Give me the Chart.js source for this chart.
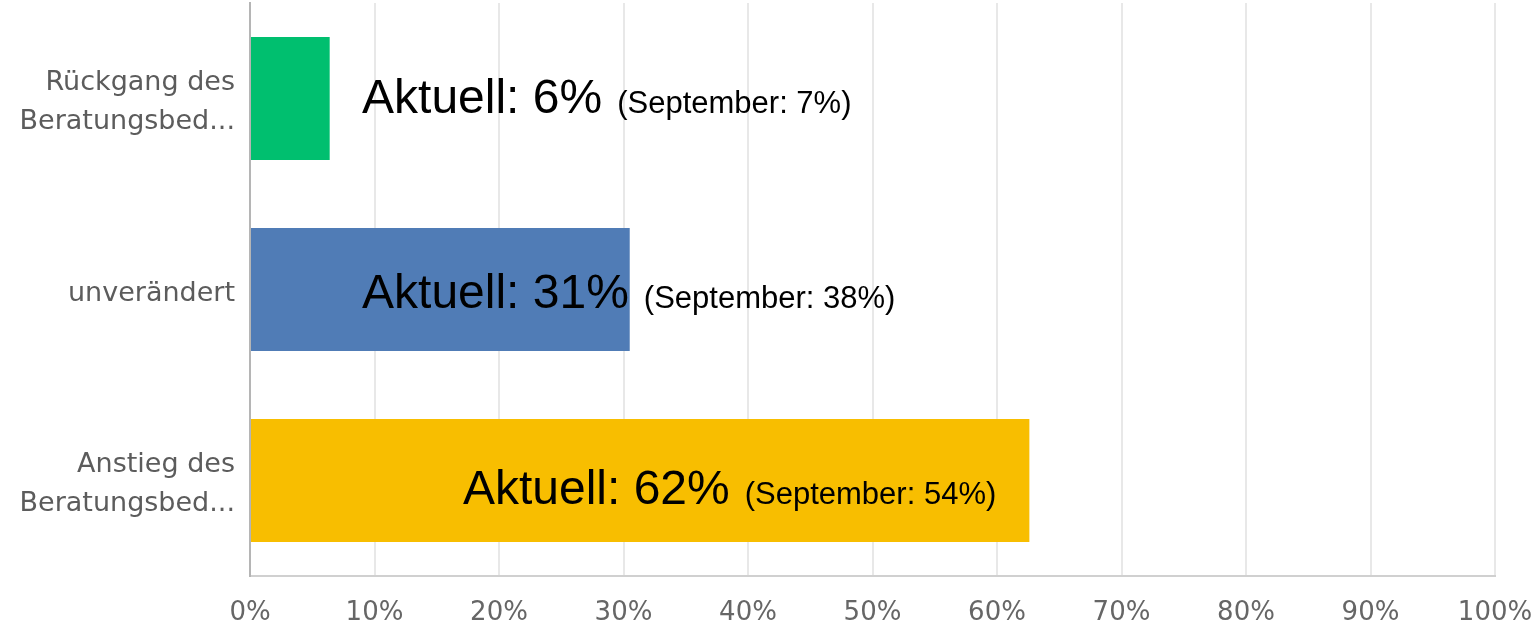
<!DOCTYPE html>
<html lang="de">
<head>
  <meta charset="UTF-8" />
  <title>Beratungsbedarf</title>
  <script src="https://cdn.jsdelivr.net/npm/chart.js"></script>
  <style>
    body { margin: 0; background: #fff; }
    #wrap { width: 1540px; height: 627px; }
  </style>
</head>
<body>
  <div id="wrap"><canvas id="chart"></canvas></div>

  <script>
    // data
    const categories = [
      ['Rückgang des', 'Beratungsbed...'],
      'unverändert',
      ['Anstieg des', 'Beratungsbed...']
    ];
    const currentValues = [6.4, 30.5, 62.6];
    const currentLabels = ['6%', '31%', '62%'];
    const septemberLabels = ['7%', '38%', '54%'];
    const barColors = ['#00bf6f', '#507cb6', '#f8be00'];
    const xTicks = [0, 10, 20, 30, 40, 50, 60, 70, 80, 90, 100];

    // where each annotation starts (in axis units) and its baseline shift
    const labelStart = [9.0, 9.0, 17.1];
    const labelShift = [14.5, 18.5, 23.5];

    const annotations = {
      id: 'annotations',
      afterDatasetsDraw(chart) {
        const ctx = chart.ctx;
        const meta = chart.getDatasetMeta(0);
        const x = chart.scales.x;
        ctx.save();
        ctx.fillStyle = '#000';
        ctx.textBaseline = 'alphabetic';
        ctx.textAlign = 'left';
        meta.data.forEach((bar, i) => {
          const px = x.getPixelForValue(labelStart[i]);
          const py = bar.y + labelShift[i];
          ctx.font = '48px "Liberation Sans", Arial, sans-serif';
          const big = 'Aktuell: ' + currentLabels[i];
          ctx.fillText(big, px, py);
          const w = ctx.measureText(big).width;
          ctx.font = '31px "Liberation Sans", Arial, sans-serif';
          ctx.fillText('(September: ' + septemberLabels[i] + ')', px + w + 15, py);
        });
        ctx.restore();
      }
    };

    new Chart(document.getElementById('chart'), {
      type: 'bar',
      data: {
        labels: categories,
        datasets: [{
          data: currentValues,
          backgroundColor: barColors,
          borderWidth: 0,
          categoryPercentage: 1,
          barPercentage: 0.645
        }]
      },
      options: {
        indexAxis: 'y',
        responsive: true,
        maintainAspectRatio: false,
        animation: false,
        layout: { padding: { top: 3, right: 45, bottom: 0, left: 0 } },
        plugins: {
          legend: { display: false },
          tooltip: { enabled: false }
        },
        scales: {
          x: {
            min: 0,
            max: 100,
            afterBuildTicks: s => { s.ticks = xTicks.map(v => ({ value: v })); },
            afterFit: s => {
              s.height = 51;
              s.paddingLeft = 0;
              s.paddingRight = 0;
            },
            grid: { color: '#e8e8e8', lineWidth: 2, drawTicks: false },
            border: { display: true, color: '#d0d0d0', width: 2 },
            ticks: {
              padding: 22,
              maxRotation: 0,
              color: '#666',
              font: { family: '"DejaVu Sans", sans-serif', size: 26 },
              callback: v => v + '%'
            }
          },
          y: {
            afterFit: s => {
              s.width = 250;
              s.paddingTop = 0;
              s.paddingBottom = 0;
            },
            grid: { display: false, drawTicks: false },
            border: { display: true, color: '#b5b5b5', width: 2 },
            ticks: {
              padding: 15,
              labelOffset: 4,
              color: '#5c5c5c',
              font: { family: '"DejaVu Sans", sans-serif', size: 27, lineHeight: 1.42 }
            }
          }
        }
      },
      plugins: [annotations]
    });
  </script>
</body>
</html>
